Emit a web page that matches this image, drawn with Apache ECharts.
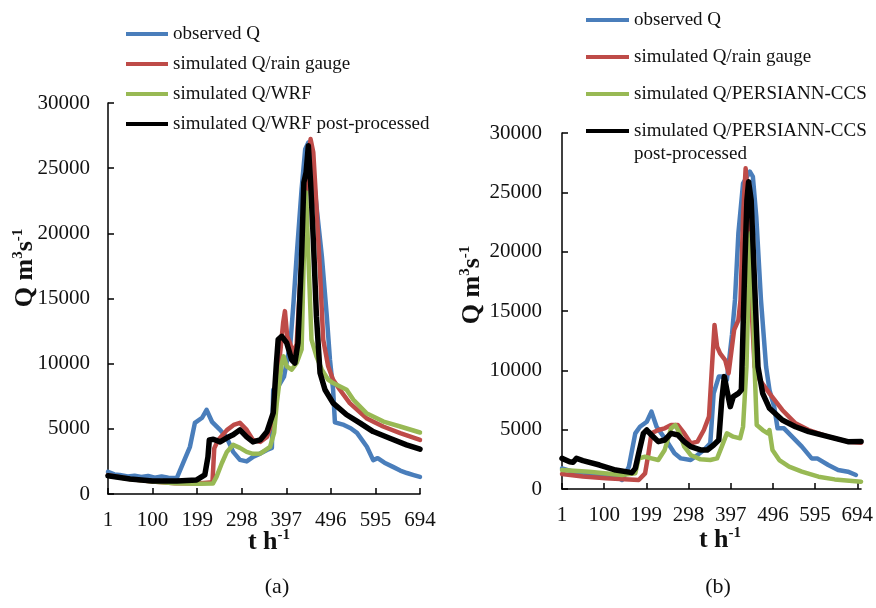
<!DOCTYPE html>
<html>
<head>
<meta charset="utf-8">
<script src="https://cdn.jsdelivr.net/npm/echarts@6.0.0/dist/echarts.min.js"></script>
<style>
  body { margin: 0; background: #fff; }
  #chart { width: 876px; height: 608px; }
</style>
</head>
<body>
<div id="chart"></div>
<script>
//---------------------------Data---------------------------
//tick labels of the time axis (hours)
let tLabels = [1, 100, 199, 298, 397, 496, 595, 694];

//(a) WRF case, [t, Q]
let observedA = [[1,1700],[15,1500],[27,1460],[45,1350],[60,1400],[75,1300],[90,1380],[105,1250],[120,1350],[135,1250],[154,1230],[168,2380],[183,3620],[194,5460],[210,5850],[220,6460],[232,5540],[250,4920],[265,4310],[279,3230],[294,2620],[309,2500],[324,2870],[339,3100],[354,3380],[365,3540],[368,8000],[380,8300],[392,9000],[400,10500],[406,11500],[413,14670],[420,18250],[431,23380],[439,26460],[446,26970],[453,25950],[464,22100],[476,18250],[487,13640],[494,10300],[501,8000],[505,5500],[525,5300],[540,5050],[554,4690],[576,3620],[590,2600],[600,2750],[615,2400],[634,2080],[650,1800],[665,1610],[680,1450],[694,1310]];
let gaugeA = [[1,1450],[50,1150],[100,950],[150,820],[200,800],[233,900],[237,3500],[245,4100],[265,4900],[280,5300],[294,5460],[309,4920],[323,4150],[339,4000],[354,4380],[368,5700],[379,9280],[390,13130],[394,14030],[399,12100],[405,11590],[413,10820],[420,11500],[427,15690],[439,22100],[446,25950],[451,27230],[457,26200],[464,22100],[472,16970],[479,11850],[490,9800],[501,8770],[516,8000],[538,6970],[575,5820],[612,5180],[650,4670],[694,4150]];
let wrfA = [[1,1400],[50,1150],[100,950],[150,820],[200,780],[234,800],[242,1310],[254,2380],[265,3230],[279,3770],[294,3540],[309,3230],[323,3080],[339,3100],[361,3620],[370,4700],[376,7000],[387,10050],[391,10560],[398,9800],[409,9540],[420,10050],[431,11080],[436,18260],[441,23130],[446,18260],[453,11850],[464,10560],[476,9540],[490,8770],[501,8510],[531,8000],[546,7230],[575,6200],[613,5560],[650,5180],[694,4720]];
let wrfPostA = [[1,1400],[50,1150],[100,1000],[154,1000],[198,1080],[216,1460],[223,2850],[226,4150],[235,4200],[250,4000],[265,4310],[279,4540],[294,4920],[309,4380],[323,4000],[339,4150],[354,4770],[368,6230],[375,10000],[379,11850],[387,12100],[398,11590],[409,10300],[416,10050],[423,11590],[431,18260],[436,23900],[441,24670],[446,26720],[451,23900],[457,19540],[464,13640],[472,9280],[483,8000],[501,6970],[531,6080],[561,5440],[590,4790],[627,4280],[664,3770],[694,3440]];

//(b) PERSIANN-CCS case, [t, Q]
let observedB = [[1,1740],[27,1460],[60,1350],[104,1180],[130,1000],[142,760],[158,1880],[173,4690],[184,5250],[200,5670],[211,6520],[223,5250],[234,4690],[250,3850],[265,3010],[280,2580],[303,2440],[319,2870],[334,3290],[349,3850],[357,8060],[369,9470],[376,9470],[388,9200],[400,13000],[407,15930],[415,21550],[426,25760],[442,26740],[449,26320],[457,22950],[468,15930],[480,10310],[488,8340],[499,6940],[507,5110],[522,5110],[541,4410],[564,3570],[587,2580],[600,2580],[626,2020],[649,1600],[672,1460],[691,1180]];
let gaugeB = [[1,1260],[50,1050],[104,900],[181,760],[196,1320],[204,3010],[211,4690],[227,4970],[242,5110],[257,5390],[273,5390],[288,4690],[303,3850],[319,3990],[334,4970],[346,6100],[353,10310],[359,13820],[365,12000],[372,11430],[384,10870],[392,9750],[399,11710],[405,13400],[415,14240],[420,15930],[426,22950],[432,27020],[438,24350],[445,15930],[453,10310],[465,9190],[488,8060],[518,6660],[549,5530],[580,4970],[626,4410],[672,3990],[703,3900]];
let ccsB = [[1,1600],[65,1460],[142,1180],[173,1320],[181,2580],[196,2720],[211,2580],[227,2440],[242,3290],[257,5110],[267,5390],[277,4690],[288,3570],[303,2870],[326,2500],[349,2440],[365,2580],[376,3570],[388,4690],[403,4410],[419,4270],[426,5250],[434,10310],[440,18740],[443,21550],[448,17330],[453,10310],[458,5390],[472,4970],[484,4690],[488,4970],[495,3290],[511,2440],[534,1880],[564,1460],[603,1040],[641,810],[703,620]];
let ccsPostB = [[1,2580],[19,2300],[27,2250],[35,2580],[50,2390],[89,2020],[127,1600],[165,1380],[173,1740],[181,3010],[192,4690],[200,4970],[211,4550],[227,3990],[242,4130],[257,4690],[273,4550],[288,3990],[303,3570],[326,3290],[342,3290],[357,3710],[369,4130],[376,7500],[382,9470],[388,8340],[396,6940],[403,7780],[415,8060],[422,8340],[430,18740],[435,24350],[439,25900],[445,24350],[453,17330],[461,10310],[472,8060],[488,6800],[518,5810],[549,5250],[580,4830],[626,4410],[672,3990],[703,4000]];

//---------------------------Style---------------------------
let font = 'Liberation Serif';
let colBlue = '#4a7ebb';
let colRed = '#be4b48';
let colGreen = '#98b954';
let colBlack = '#000000';

//---------------------------Function---------------------------
function makeX(grid, max) {
    return {
        type: 'value', gridIndex: grid, min: 1, max: max,
        axisLine: { show: true, lineStyle: { color: '#000', width: 1.5 } },
        axisTick: { show: true, inside: true, length: 6, customValues: tLabels, lineStyle: { color: '#000', width: 1.5 } },
        axisLabel: { customValues: tLabels, margin: 16, color: '#111', fontFamily: font, fontSize: 21 },
        splitLine: { show: false }
    };
}

function makeY(grid, margin) {
    return {
        type: 'value', gridIndex: grid, min: 0, max: 30000, interval: 5000,
        axisLine: { show: true, lineStyle: { color: '#000', width: 1.5 } },
        axisTick: { show: true, inside: true, length: 6, lineStyle: { color: '#000', width: 1.5 } },
        axisLabel: {
            margin: margin, color: '#111', fontFamily: font, fontSize: 21,
            formatter: function (v) { return String(v); }
        },
        splitLine: { show: false }
    };
}

function makeLine(name, data, color, width, grid) {
    return {
        type: 'line', name: name, data: data,
        xAxisIndex: grid, yAxisIndex: grid,
        showSymbol: false, color: color,
        lineStyle: { color: color, width: width, cap: 'round', join: 'round' },
        emphasis: { disabled: true }
    };
}

function titleText(x, y, text, rotate) {
    return {
        type: 'text', x: x, y: y, rotation: rotate ? Math.PI / 2 : 0,
        style: {
            text: text, align: 'center', verticalAlign: 'middle',
            rich: {
                b: { fontFamily: font, fontSize: 26, fontWeight: 'bold', lineHeight: 28, fill: '#111' },
                s: { fontFamily: font, fontSize: 15, fontWeight: 'bold', lineHeight: 14, verticalAlign: 'top', fill: '#111' }
            }
        }
    };
}

function plainText(x, y, text, align) {
    return {
        type: 'text', x: x, y: y,
        style: { text: text, fontFamily: font, fontSize: 19, fill: '#111', align: align, verticalAlign: 'middle' }
    };
}

//---------------------------Chart---------------------------
let chart = echarts.init(document.getElementById('chart'));

let legendText = { fontFamily: font, fontSize: 19, color: '#111', lineHeight: 20 };

let option = {
    animation: false,
    backgroundColor: '#fff',
    grid: [
        { left: 108, top: 103, width: 312, height: 391 },
        { left: 562, top: 133, width: 305, height: 356 }
    ],
    xAxis: [makeX(0, 694), makeX(1, 703)],
    yAxis: [makeY(0, 18), makeY(1, 20)],
    legend: [
        {
            orient: 'vertical', left: 126, top: 24, itemGap: 10, padding: 0,
            itemWidth: 42, itemHeight: 4, icon: 'rect',
            textStyle: legendText, selectedMode: false,
            data: ['observed Q', 'simulated Q/rain gauge', 'simulated Q/WRF', 'simulated Q/WRF post-processed']
        },
        {
            orient: 'vertical', left: 586, top: 10, itemGap: 17, padding: 0,
            itemWidth: 43, itemHeight: 4, icon: 'rect',
            textStyle: legendText, selectedMode: false,
            //second line of the last entry is drawn as a graphic below
            formatter: function (name) {
                return name.replace(' post-processed', '');
            },
            data: ['observed Q', 'simulated Q/rain gauge', 'simulated Q/PERSIANN-CCS', 'simulated Q/PERSIANN-CCS post-processed']
        }
    ],
    series: [
        makeLine('observed Q', observedA, colBlue, 4.5, 0),
        makeLine('simulated Q/rain gauge', gaugeA, colRed, 4.5, 0),
        makeLine('simulated Q/WRF', wrfA, colGreen, 4.5, 0),
        makeLine('simulated Q/WRF post-processed', wrfPostA, colBlack, 5.5, 0),
        makeLine('observed Q', observedB, colBlue, 4.5, 1),
        makeLine('simulated Q/rain gauge', gaugeB, colRed, 4.5, 1),
        makeLine('simulated Q/PERSIANN-CCS', ccsB, colGreen, 4.5, 1),
        makeLine('simulated Q/PERSIANN-CCS post-processed', ccsPostB, colBlack, 5.5, 1)
    ],
    graphic: [
        titleText(25, 268, '{b|Q m}{s|3}{b|s}{s|-1}', true),
        titleText(472, 285, '{b|Q m}{s|3}{b|s}{s|-1}', true),
        titleText(269, 542, '{b|t h}{s|-1}', false),
        titleText(720, 540, '{b|t h}{s|-1}', false),
        plainText(634, 154, 'post-processed', 'left'),
        { type: 'text', x: 277, y: 587, style: { text: '(a)', font: '22px "Liberation Serif"', fill: '#111', align: 'center', verticalAlign: 'middle' } },
        { type: 'text', x: 718, y: 587, style: { text: '(b)', font: '22px "Liberation Serif"', fill: '#111', align: 'center', verticalAlign: 'middle' } }
    ]
};

chart.setOption(option);
</script>
</body>
</html>
